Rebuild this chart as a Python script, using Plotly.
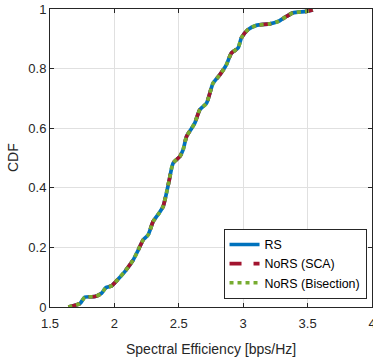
import plotly.graph_objects as go

# Spectral efficiency values (bps/Hz) and CDF
se = [1.642, 1.733, 1.771, 1.849, 1.900, 1.934, 1.978, 2.030, 2.081, 2.146,
      2.185, 2.223, 2.262, 2.301, 2.347, 2.378, 2.404, 2.425, 2.456, 2.508,
      2.533, 2.560, 2.600, 2.624, 2.663, 2.715, 2.766, 2.818, 2.870, 2.908,
      2.960, 2.986, 3.037, 3.102, 3.205, 3.270, 3.335, 3.386, 3.490, 3.541]
cdf = [0.000, 0.012, 0.033, 0.035, 0.046, 0.065, 0.071, 0.094, 0.119, 0.158,
       0.191, 0.225, 0.242, 0.287, 0.315, 0.337, 0.382, 0.424, 0.483, 0.505,
       0.527, 0.572, 0.600, 0.617, 0.662, 0.684, 0.751, 0.779, 0.813, 0.852,
       0.869, 0.903, 0.931, 0.945, 0.950, 0.958, 0.975, 0.987, 0.992, 0.997]

series_names = ["RS", "NoRS (SCA)", "NoRS (Bisection)"]
series_colors = ["#0072BD", "#A2142F", "#77AC30"]
series_dash = ["solid", "12px,12px", "4px,4px"]

x_ticks = [1.5, 2, 2.5, 3, 3.5, 4]
x_tick_labels = ["1.5", "2", "2.5", "3", "3.5", "4"]
y_ticks = [0, 0.2, 0.4, 0.6, 0.8, 1]
y_tick_labels = ["0", "0.2", "0.4", "0.6", "0.8", "1"]

x_title = "Spectral Efficiency [bps/Hz]"
y_title = "CDF"

font_family = "Liberation Sans, Arial, sans-serif"

fig = go.Figure()
for name, color, dash in zip(series_names, series_colors, series_dash):
    fig.add_trace(go.Scatter(
        x=se, y=cdf, mode="lines", name=name,
        line=dict(color=color, width=3.7, dash=dash, shape="spline", smoothing=0.6),
    ))

axis_common = dict(
    showline=True, linecolor="#262626", linewidth=1, mirror="ticks",
    ticks="inside", ticklen=4, tickcolor="#262626",
    showgrid=True, gridcolor="#e0e0e0", gridwidth=1,
    zeroline=False, automargin=False, ticklabeloverflow="allow",
    tickfont=dict(family=font_family, size=13, color="#262626"),
)

fig.update_layout(
    width=373, height=360,
    margin=dict(l=50, r=1, t=9, b=53),
    paper_bgcolor="white", plot_bgcolor="white",
    font=dict(family=font_family, color="#262626"),
    showlegend=True,
    legend=dict(
        x=0.983, y=0.027, xanchor="right", yanchor="bottom",
        bgcolor="white", bordercolor="#262626", borderwidth=1,
        font=dict(family=font_family, size=12.4, color="#000000"),
        tracegroupgap=0, itemwidth=30,
    ),
    xaxis=dict(range=[1.5, 4], tickvals=x_ticks, ticktext=x_tick_labels,
               ticklabelstandoff=4, **axis_common),
    yaxis=dict(range=[0, 1], tickvals=y_ticks, ticktext=y_tick_labels, **axis_common),
    annotations=[
        dict(text=x_title, xref="paper", yref="paper", x=0.5, y=0,
             xanchor="center", yanchor="middle", yshift=-42, showarrow=False,
             font=dict(family=font_family, size=14, color="#262626")),
        dict(text=y_title, xref="paper", yref="paper", x=0, y=0.5,
             xanchor="center", yanchor="middle", xshift=-37, textangle=-90,
             showarrow=False,
             font=dict(family=font_family, size=14, color="#262626")),
    ],
)

fig.write_html("out.html", config={"displayModeBar": False},
               post_script="document.body.style.margin='0';")
